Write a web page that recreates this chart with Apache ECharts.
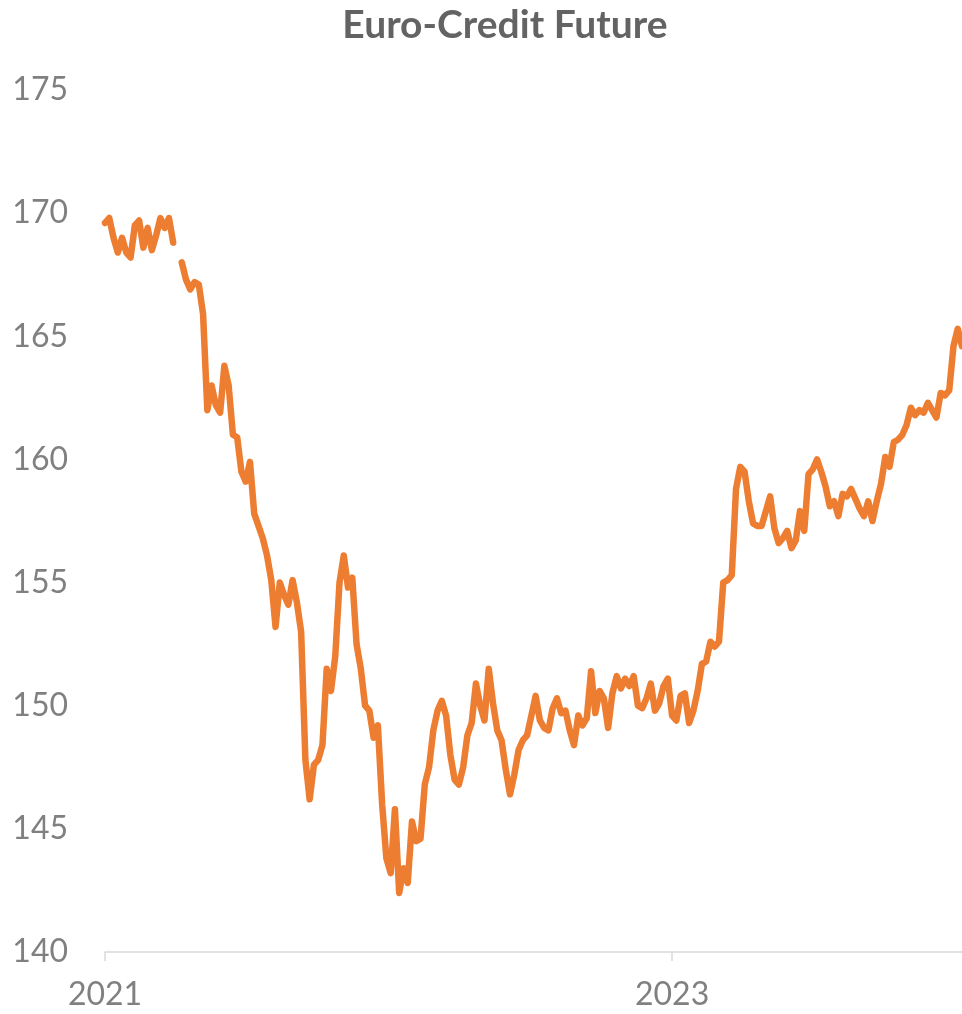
<!DOCTYPE html>
<html>
<head>
<meta charset="utf-8">
<title>Euro-Credit Future</title>
<script src="https://cdn.jsdelivr.net/npm/echarts@6/dist/echarts.min.js"></script>
<style>
  html, body { margin: 0; padding: 0; background: #fff; }
  #chart { width: 962px; height: 1014px; }
</style>
</head>
<body>
<div id="chart"></div>
<script>
// Kursverlauf, null = Datenlücke
var values = [
  169.6, 169.8, 169.0, 168.4, 169.0, 168.4, 168.2, 169.5, 169.7, 168.6,
  169.4, 168.5, 169.1, 169.8, 169.4, 169.8, 168.8, null, 168.0, 167.3,
  166.9, 167.2, 167.1, 165.9, 162.0, 163.0, 162.2, 161.9, 163.8, 163.0,
  161.0, 160.9, 159.5, 159.1, 159.9, 157.8, 157.3, 156.8, 156.1, 155.1,
  153.2, 155.0, 154.5, 154.1, 155.1, 154.2, 153.0, 147.8, 146.2, 147.6,
  147.8, 148.4, 151.5, 150.6, 152.0, 155.0, 156.1, 154.8, 155.2, 152.5,
  151.5, 150.0, 149.8, 148.7, 149.2, 146.0, 143.8, 143.2, 145.8, 142.4,
  143.4, 142.8, 145.3, 144.5, 144.6, 146.8, 147.5, 149.0, 149.8, 150.2,
  149.6, 148.0, 147.0, 146.8, 147.5, 148.8, 149.3, 150.9, 150.0, 149.4,
  151.5, 150.1, 149.0, 148.6, 147.4, 146.4, 147.2, 148.2, 148.6, 148.8,
  149.6, 150.4, 149.4, 149.1, 149.0, 149.9, 150.3, 149.7, 149.8, 149.0,
  148.4, 149.6, 149.2, 149.5, 151.4, 149.7, 150.6, 150.3, 149.1, 150.5,
  151.2, 150.7, 151.1, 150.8, 151.2, 150.0, 149.9, 150.3, 150.9, 149.8,
  150.1, 150.8, 151.1, 149.6, 149.4, 150.4, 150.5, 149.3, 149.8, 150.6,
  151.7, 151.8, 152.6, 152.4, 152.6, 155.0, 155.1, 155.3, 158.8, 159.7,
  159.5, 158.3, 157.4, 157.3, 157.3, 157.9, 158.5, 157.2, 156.6, 156.8,
  157.1, 156.4, 156.7, 157.9, 157.1, 159.4, 159.6, 160.0, 159.5, 158.9,
  158.1, 158.3, 157.7, 158.6, 158.5, 158.8, 158.4, 158.0, 157.7, 158.3,
  157.5, 158.3, 159.0, 160.1, 159.7, 160.7, 160.8, 161.0, 161.4, 162.1,
  161.8, 162.0, 161.9, 162.3, 162.0, 161.7, 162.7, 162.6, 162.8, 164.6,
  165.3, 164.6
];
var categories = values.map(function (v, i) { return String(i); });

// Beschriftete Ticks auf der Zeitachse
var tickIndex = [0, 133];
var tickLabels = ['2021', '2023'];

var yMin = 140, yMax = 175, yStep = 5;

var myChart = echarts.init(document.getElementById('chart'));
var option = {
    animation: false,
    backgroundColor: '#ffffff',
    title: {
        text: 'Euro-Credit Future',
        left: 500,
        top: 1,
        textAlign: 'center',
        textStyle: {
            fontFamily: 'Lato',
            fontWeight: 'bold',
            fontSize: 39,
            color: '#636363'
        }
    },
    grid: {
        left: 105,
        right: 0,
        top: 90,
        bottom: 62,
        containLabel: false,
        outerBoundsMode: 'none'
    },
    xAxis: {
        type: 'category',
        data: categories,
        boundaryGap: false,
        axisLine: { lineStyle: { color: '#d9d9d9', width: 1.5 } },
        axisTick: {
            length: 9,
            lineStyle: { color: '#d9d9d9', width: 1.5 },
            interval: function (index) { return tickIndex.indexOf(index) >= 0; }
        },
        axisLabel: {
            interval: function (index) { return tickIndex.indexOf(index) >= 0; },
            formatter: function (value, index) {
                var k = tickIndex.indexOf(index);
                return k >= 0 ? tickLabels[k] : '';
            },
            margin: 27,
            fontFamily: 'Lato',
            fontSize: 32,
            color: '#808080'
        },
        splitLine: { show: false }
    },
    yAxis: {
        type: 'value',
        min: yMin,
        max: yMax,
        interval: yStep,
        axisLine: { show: false },
        axisTick: { show: false },
        splitLine: { show: false },
        axisLabel: {
            margin: 37,
            fontFamily: 'Lato',
            fontSize: 32,
            color: '#808080'
        }
    },
    series: [{
        type: 'line',
        data: values,
        showSymbol: false,
        symbol: 'none',
        connectNulls: false,
        clip: false,
        lineStyle: { color: '#ED7D31', width: 6.5, cap: 'round', join: 'round' }
    }]
};
myChart.setOption(option);
</script>
</body>
</html>
